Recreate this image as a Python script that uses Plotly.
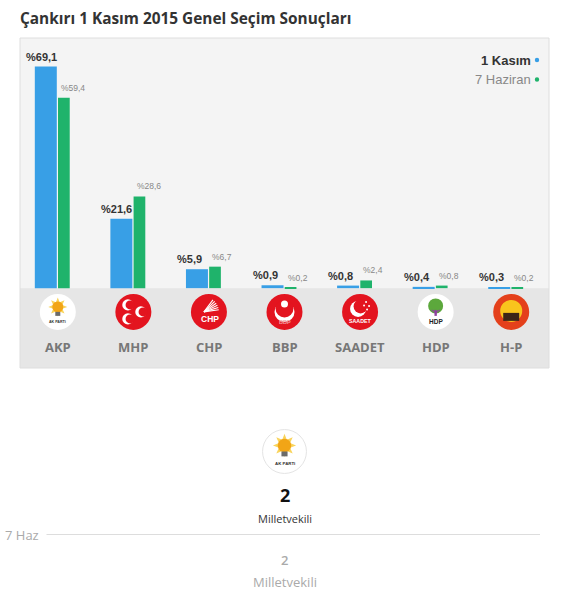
"""
Çankırı 1 Kasım 2015 seçim sonuçları - Plotly ile yeniden çizim
"""
import math
import plotly.graph_objects as go

# --- data ---
parties = ["AKP", "MHP", "CHP", "BBP", "SAADET", "HDP", "H-P"]
kasim_pct = [69.1, 21.6, 5.9, 0.9, 0.8, 0.4, 0.3]
haziran_pct = [59.4, 28.6, 6.7, 0.2, 2.4, 0.8, 0.2]
seats_kasim = 2
seats_haziran = 2

BLUE = "#389fe6"
GREEN = "#1fb36b"
RED = "#e3141f"

# page geometry (pixels of the 561x595 page)
W, H = 561, 595
L, R, T, B = 20, 12, 38, 227
Y_MIN, Y_MAX = -24.9, 78.0


def px_x(px):
    return (px - L) / (W - L - R)


def px_y(py):
    return (H - B - py) / (H - T - B)


def pct(v):
    return "%" + f"{v:.1f}".replace(".", ",")


xs = list(range(len(parties)))

fig = go.Figure()
fig.add_trace(go.Bar(x=xs, y=kasim_pct, width=0.291, offset=-0.304,
                     marker=dict(color=BLUE, line=dict(width=0)),
                     name="1 Kasım", hoverinfo="skip"))
fig.add_trace(go.Bar(x=xs, y=haziran_pct, width=0.155, offset=0.003,
                     marker=dict(color=GREEN, line=dict(width=0)),
                     name="7 Haziran", hoverinfo="skip"))

shapes = []
annotations = []


def circle(xa, ya, cx, cy, r, color, xref="x", yref="y", line=None):
    shapes.append(dict(type="circle", xref=xref, yref=yref,
                       xsizemode="pixel", ysizemode="pixel",
                       xanchor=xa, yanchor=ya,
                       x0=cx - r, x1=cx + r, y0=cy - r, y1=cy + r,
                       fillcolor=color, line=line or dict(width=0),
                       layer="above"))


def rect(xa, ya, x0, y0, x1, y1, color, xref="x", yref="y"):
    shapes.append(dict(type="rect", xref=xref, yref=yref,
                       xsizemode="pixel", ysizemode="pixel",
                       xanchor=xa, yanchor=ya, x0=x0, x1=x1, y0=y0, y1=y1,
                       fillcolor=color, line=dict(width=0), layer="above"))


def seg(xa, ya, x0, y0, x1, y1, color, width=1.2, xref="x", yref="y"):
    shapes.append(dict(type="line", xref=xref, yref=yref,
                       xsizemode="pixel", ysizemode="pixel",
                       xanchor=xa, yanchor=ya, x0=x0, x1=x1, y0=y0, y1=y1,
                       line=dict(color=color, width=width), layer="above"))


def star_path(cx, cy, r_out, r_in, n):
    pts = []
    for k in range(2 * n):
        rr = r_out if k % 2 == 0 else r_in
        a = math.pi / 2 + k * math.pi / n
        pts.append((cx + rr * math.cos(a), cy + rr * math.sin(a)))
    return "M " + " L ".join(f"{p[0]:.1f},{p[1]:.1f}" for p in pts) + " Z"


def tiny_text(xa, ya, dx, dy, text, size, color, xref="x", yref="y"):
    annotations.append(dict(x=xa, y=ya, xref=xref, yref=yref, text=text,
                            showarrow=False, xshift=dx, yshift=dy,
                            xanchor="center", yanchor="middle",
                            font=dict(family="Liberation Sans, Arial", size=size,
                                      color=color, weight=700)))


def akp_logo(xa, ya, s, xref="x", yref="y"):
    circle(xa, ya, 0, 0, 18 * s, "#ffffff", xref, yref,
           line=dict(color="#e4e4e4", width=1) if s > 1 else None)
    shapes.append(dict(type="path", xref=xref, yref=yref,
                       xsizemode="pixel", ysizemode="pixel",
                       xanchor=xa, yanchor=ya,
                       path=star_path(0, 5 * s, 9.5 * s, 5 * s, 8),
                       fillcolor="#f9d45c", line=dict(width=0), layer="above"))
    circle(xa, ya, 0, 5 * s, 5.5 * s, "#f2a516", xref, yref)
    rect(xa, ya, -2.5 * s, -4 * s, 2.5 * s, 0, "#6b6b6b", xref, yref)
    tiny_text(xa, ya, 0, -10 * s, "AK PARTİ", 3.6 * s, "#333333", xref, yref)


LOGO_Y = -7.4
for i, p in enumerate(parties):
    if p == "AKP":
        akp_logo(i, LOGO_Y, 1.0)
    elif p == "MHP":
        circle(i, LOGO_Y, 0, 0, 18, RED)
        for (dx, dy) in [(-5.5, 7), (-5.5, -7), (7.5, 0)]:
            circle(i, LOGO_Y, dx, dy, 5.6, "#ffffff")
            circle(i, LOGO_Y, dx + 2.2, dy, 4.5, RED)
    elif p == "CHP":
        circle(i, LOGO_Y, 0, 0, 18, RED)
        for k in range(6):
            a = math.radians(8 + k * 9)
            seg(i, LOGO_Y, -5, 0, -5 + 15 * math.cos(a), 0 + 15 * math.sin(a),
                "#ffffff", 1.1)
        tiny_text(i, LOGO_Y, 1, -7, "CHP", 8.5, "#ffffff")
    elif p == "BBP":
        circle(i, LOGO_Y, 0, 0, 18, RED)
        circle(i, LOGO_Y, 0, 0, 10, "#ffffff")
        circle(i, LOGO_Y, 0, 3.5, 9, RED)
        circle(i, LOGO_Y, 0, 8, 3.5, "#ffffff")
        tiny_text(i, LOGO_Y, 0, -10, "BBP", 5.5, "#f3a0a5")
    elif p == "SAADET":
        circle(i, LOGO_Y, 0, 0, 18, RED)
        circle(i, LOGO_Y, -2, 3, 8, "#ffffff")
        circle(i, LOGO_Y, 0.5, 5.5, 7, RED)
        for (dx, dy) in [(6, 10), (9, 6), (4, 6.5), (7, 2.5)]:
            circle(i, LOGO_Y, dx, dy, 1.0, "#ffffff")
        tiny_text(i, LOGO_Y, 0, -9, "SAADET", 5.3, "#ffffff")
    elif p == "HDP":
        circle(i, LOGO_Y, 0, 0, 18, "#ffffff")
        circle(i, LOGO_Y, 0, 6, 7.5, "#5ca83c")
        rect(i, LOGO_Y, -1.2, -4, 1.2, 2, "#8e3fa0")
        seg(i, LOGO_Y, 0, -1, -4, 2, "#8e3fa0", 1.2)
        seg(i, LOGO_Y, 0, -1, 4, 2, "#8e3fa0", 1.2)
        tiny_text(i, LOGO_Y, 0, -10, "HDP", 6.5, "#222222")
    else:
        circle(i, LOGO_Y, 0, 0, 18, "#e4401b")
        circle(i, LOGO_Y, 0, 1, 11, "#f9c41d")
        rect(i, LOGO_Y, -8, -9, 8, -1, "#3b2418")

# background band under the bars and box border
shapes.insert(0, dict(type="rect", xref="paper", yref="y", x0=0, x1=1,
                      y0=Y_MIN, y1=0, fillcolor="#e6e6e6",
                      line=dict(width=0), layer="below"))
shapes.append(dict(type="rect", xref="paper", yref="paper", x0=0, x1=1,
                   y0=0, y1=1, line=dict(color="#dedede", width=1),
                   fillcolor="rgba(0,0,0,0)", layer="above"))

# value labels
for i in xs:
    annotations.append(dict(x=i - 0.304, y=kasim_pct[i], xref="x", yref="y",
                            text=pct(kasim_pct[i]), showarrow=False,
                            xanchor="left", yanchor="middle", xshift=-11, yshift=10,
                            font=dict(family="Liberation Sans, Arial", size=11,
                                      color="#333333", weight=700)))
    annotations.append(dict(x=i + 0.003, y=haziran_pct[i], xref="x", yref="y",
                            text=pct(haziran_pct[i]), showarrow=False,
                            xanchor="left", yanchor="middle", xshift=1, yshift=10,
                            font=dict(family="Liberation Sans, Arial", size=8.5,
                                      color="#888888")))
    annotations.append(dict(x=i, y=-18.3, xref="x", yref="y", text=parties[i],
                            showarrow=False, xanchor="center", yanchor="middle",
                            font=dict(family="Open Sans", size=13,
                                      color="#777777", weight=700)))

# legend (text then dot)
annotations.append(dict(x=px_x(533), y=px_y(60), xref="paper", yref="paper",
                        text="1 Kasım", showarrow=False, xanchor="right",
                        yanchor="middle",
                        font=dict(family="Liberation Sans, Arial", size=13,
                                  color="#333333", weight=700)))
annotations.append(dict(x=px_x(533), y=px_y(79.5), xref="paper", yref="paper",
                        text="7 Haziran", showarrow=False, xanchor="right",
                        yanchor="middle",
                        font=dict(family="Liberation Sans, Arial", size=13,
                                  color="#888888")))
circle(px_x(537), px_y(60), 0, 0, 2.2, BLUE, "paper", "paper")
circle(px_x(537), px_y(79.5), 0, 0, 2.2, GREEN, "paper", "paper")

# title
annotations.append(dict(x=0, y=px_y(19), xref="paper", yref="paper",
                        text="Çankırı 1 Kasım 2015 Genel Seçim Sonuçları",
                        showarrow=False, xanchor="left", yanchor="middle",
                        xshift=-2,
                        font=dict(family="Open Sans", size=15.4, color="#333333",
                                  weight=700)))

# seats section
akp_logo(px_x(284.5), px_y(451.5), 1.22, "paper", "paper")
annotations.append(dict(x=px_x(284.5), y=px_y(495), xref="paper", yref="paper",
                        text=str(seats_kasim), showarrow=False,
                        xanchor="center", yanchor="middle",
                        font=dict(family="Open Sans", size=18, color="#111111",
                                  weight=700)))
annotations.append(dict(x=px_x(284.5), y=px_y(518), xref="paper", yref="paper",
                        text="Milletvekili", showarrow=False,
                        xanchor="center", yanchor="middle",
                        font=dict(family="Open Sans", size=11, color="#333333")))
shapes.append(dict(type="line", xref="paper", yref="paper",
                   x0=px_x(46.5), x1=px_x(540), y0=px_y(534.5), y1=px_y(534.5),
                   line=dict(color="#dddddd", width=1)))
annotations.append(dict(x=px_x(21.5), y=px_y(534.5), xref="paper", yref="paper",
                        text="7 Haz", showarrow=False,
                        xanchor="center", yanchor="middle",
                        font=dict(family="Open Sans", size=13, color="#aaaaaa")))
annotations.append(dict(x=px_x(284.5), y=px_y(560), xref="paper", yref="paper",
                        text=str(seats_haziran), showarrow=False,
                        xanchor="center", yanchor="middle",
                        font=dict(family="Open Sans", size=13, color="#aaaaaa",
                                  weight=600)))
annotations.append(dict(x=px_x(284.5), y=px_y(581.5), xref="paper", yref="paper",
                        text="Milletvekili", showarrow=False,
                        xanchor="center", yanchor="middle",
                        font=dict(family="Open Sans", size=13, color="#aaaaaa")))

fig.update_layout(
    width=W, height=H,
    margin=dict(l=L, r=R, t=T, b=B, pad=0),
    paper_bgcolor="#ffffff",
    plot_bgcolor="#f4f4f4",
    showlegend=False,
    barmode="overlay",
    xaxis=dict(range=[-0.5, 6.5], showticklabels=False, showgrid=False,
               zeroline=False, fixedrange=True),
    yaxis=dict(range=[Y_MIN, Y_MAX], showticklabels=False, showgrid=False,
               zeroline=False, fixedrange=True),
    shapes=shapes,
    annotations=annotations,
)

# page body has a default 8px margin; drop it so the figure fills the window
fig.write_html("out.html", config={"displayModeBar": False},
               post_script="document.body.style.margin='0';")
